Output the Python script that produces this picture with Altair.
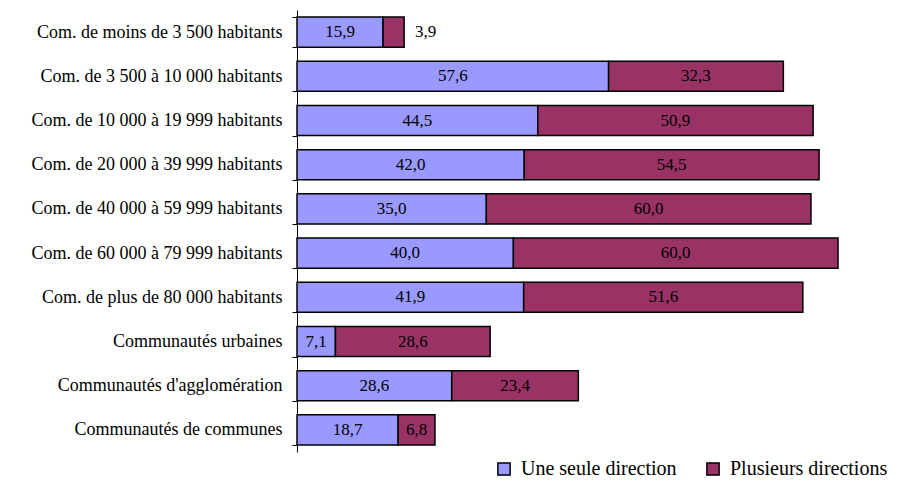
import altair as alt
import pandas as pd

categories = [
    "Com. de moins de 3 500 habitants",
    "Com. de 3 500 à 10 000 habitants",
    "Com. de 10 000 à 19 999 habitants",
    "Com. de 20 000 à 39 999 habitants",
    "Com. de 40 000 à 59 999 habitants",
    "Com. de 60 000 à 79 999 habitants",
    "Com. de plus de 80 000 habitants",
    "Communautés urbaines",
    "Communautés d'agglomération",
    "Communautés de communes",
]
une_seule = [15.9, 57.6, 44.5, 42.0, 35.0, 40.0, 41.9, 7.1, 28.6, 18.7]
plusieurs = [3.9, 32.3, 50.9, 54.5, 60.0, 60.0, 51.6, 28.6, 23.4, 6.8]
series = ["Une seule direction", "Plusieurs directions"]
colors = ["#9999FF", "#993366"]

rows = []
for c, a, b in zip(categories, une_seule, plusieurs):
    rows.append({"cat": c, "serie": series[0], "order": 0, "value": a})
    rows.append({"cat": c, "serie": series[1], "order": 1, "value": b})
df = pd.DataFrame(rows)

FONT = "Liberation Serif"

base = alt.Chart(df).transform_stack(
    stack="value", groupby=["cat"], as_=["x0", "x1"],
    sort=[alt.SortField("order", order="ascending")]
).transform_calculate(
    mid="(datum.x0 + datum.x1) / 2",
    label="replace(format(datum.value, '.1f'), '.', ',')"
)

yenc = alt.Y("cat:N", sort=categories, title=None,
             scale=alt.Scale(paddingInner=0.32, paddingOuter=0.16),
             axis=alt.Axis(labelFont=FONT, labelFontSize=18, labelColor="black",
                           domainColor="black", tickColor="black", tickSize=5,
                           labelPadding=10, labelLimit=400, tickBand="extent"))
xscale = alt.Scale(domain=[0, 100], nice=False, zero=True)

bars = base.mark_bar(stroke="black", strokeWidth=1.5).encode(
    x=alt.X("x0:Q", scale=xscale, axis=None),
    x2="x1:Q",
    y=yenc,
    color=alt.Color("serie:N", sort=series,
                    scale=alt.Scale(domain=series, range=colors),
                    legend=alt.Legend(title=None, orient="none", direction="horizontal",
                                      legendX=197, legendY=449,
                                      labelFont=FONT, labelFontSize=20, labelColor="black",
                                      symbolType="square", symbolSize=150,
                                      symbolStrokeColor="black", symbolStrokeWidth=1.5,
                                      labelLimit=400, columnPadding=26, labelOffset=7)),
)

inside = base.transform_filter("datum.value >= 5").mark_text(
    font=FONT, fontSize=17, color="black", align="center", baseline="middle"
).encode(
    x=alt.X("mid:Q", scale=xscale, axis=None),
    y=alt.Y("cat:N", sort=categories),
    text="label:N",
)

outside = base.transform_filter("datum.value < 5").mark_text(
    font=FONT, fontSize=17, color="black", align="left", baseline="middle", dx=11
).encode(
    x=alt.X("x1:Q", scale=xscale, axis=None),
    y=alt.Y("cat:N", sort=categories),
    text="label:N",
)

chart = alt.layer(bars, inside, outside).properties(
    width=541, height=442,
    padding={"left": 289, "top": 2, "right": 58, "bottom": 28},
    autosize=alt.AutoSizeParams(type="none"),
).configure_view(stroke=None)

chart.save("out.html", embed_options={"renderer": "svg", "actions": False})
